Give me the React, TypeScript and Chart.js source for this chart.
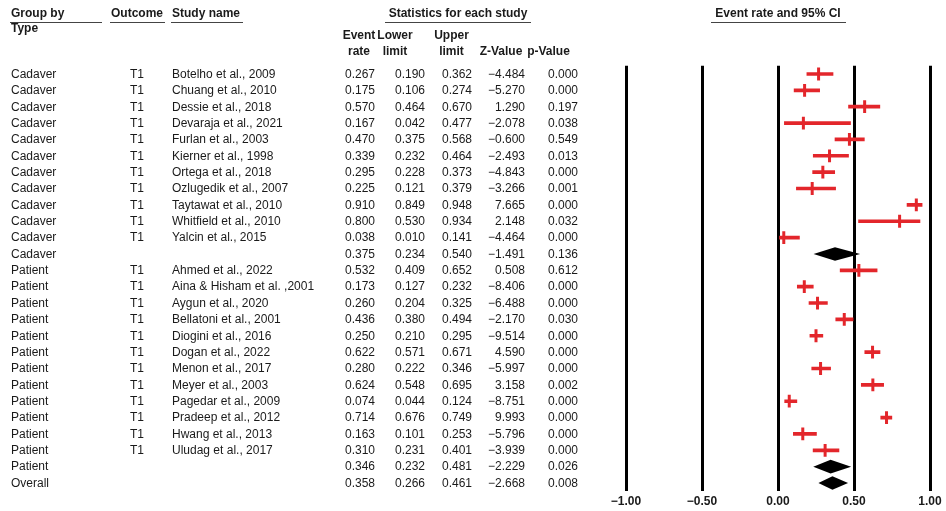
import React, { useEffect, useRef } from 'react';
import { Chart, registerables } from 'chart.js';

Chart.register(...registerables);

const groups = [
  'Cadaver', 'Cadaver', 'Cadaver', 'Cadaver', 'Cadaver', 'Cadaver', 'Cadaver', 'Cadaver', 'Cadaver', 'Cadaver', 'Cadaver', 'Cadaver',
  'Patient', 'Patient', 'Patient', 'Patient', 'Patient', 'Patient', 'Patient', 'Patient', 'Patient', 'Patient', 'Patient', 'Patient', 'Patient',
  'Overall',
];
const outcomes = [
  'T1', 'T1', 'T1', 'T1', 'T1', 'T1', 'T1', 'T1', 'T1', 'T1', 'T1', '',
  'T1', 'T1', 'T1', 'T1', 'T1', 'T1', 'T1', 'T1', 'T1', 'T1', 'T1', 'T1', '',
  '',
];
const studies = [
  'Botelho et al., 2009', 'Chuang et al., 2010', 'Dessie et al., 2018', 'Devaraja et al., 2021', 'Furlan et al., 2003',
  'Kierner et al., 1998', 'Ortega et al., 2018', 'Ozlugedik et al., 2007', 'Taytawat et al., 2010', 'Whitfield et al., 2010',
  'Yalcin et al., 2015', '',
  'Ahmed et al., 2022', 'Aina & Hisham et al. ,2001', 'Aygun et al., 2020', 'Bellatoni et al., 2001', 'Diogini et al., 2016',
  'Dogan et al., 2022', 'Menon et al., 2017', 'Meyer et al., 2003', 'Pagedar et al., 2009', 'Pradeep et al., 2012',
  'Hwang et al., 2013', 'Uludag et al., 2017', '',
  '',
];
const eventRate = [0.267, 0.175, 0.570, 0.167, 0.470, 0.339, 0.295, 0.225, 0.910, 0.800, 0.038, 0.375,
  0.532, 0.173, 0.260, 0.436, 0.250, 0.622, 0.280, 0.624, 0.074, 0.714, 0.163, 0.310, 0.346, 0.358];
const lowerLimit = [0.190, 0.106, 0.464, 0.042, 0.375, 0.232, 0.228, 0.121, 0.849, 0.530, 0.010, 0.234,
  0.409, 0.127, 0.204, 0.380, 0.210, 0.571, 0.222, 0.548, 0.044, 0.676, 0.101, 0.231, 0.232, 0.266];
const upperLimit = [0.362, 0.274, 0.670, 0.477, 0.568, 0.464, 0.373, 0.379, 0.948, 0.934, 0.141, 0.540,
  0.652, 0.232, 0.325, 0.494, 0.295, 0.671, 0.346, 0.695, 0.124, 0.749, 0.253, 0.401, 0.481, 0.461];
const zValue = [-4.484, -5.270, 1.290, -2.078, -0.600, -2.493, -4.843, -3.266, 7.665, 2.148, -4.464, -1.491,
  0.508, -8.406, -6.488, -2.170, -9.514, 4.590, -5.997, 3.158, -8.751, 9.993, -5.796, -3.939, -2.229, -2.668];
const pValue = [0.000, 0.000, 0.197, 0.038, 0.549, 0.013, 0.000, 0.001, 0.000, 0.032, 0.000, 0.136,
  0.612, 0.000, 0.000, 0.030, 0.000, 0.000, 0.000, 0.002, 0.000, 0.000, 0.000, 0.000, 0.026, 0.008];
const isSummary = [false, false, false, false, false, false, false, false, false, false, false, true,
  false, false, false, false, false, false, false, false, false, false, false, false, true, true];
const xTicks = [-1, -0.5, 0, 0.5, 1];
const xTickLabels = ['\u22121.00', '\u22120.50', '0.00', '0.50', '1.00'];

const RED = '#e3262b';
const TEXT = '#1a1a1a';
const FONT = '"Liberation Sans", Arial, sans-serif';
const TOP = 65.8;
const ROW_H = 16.36;
const AXIS_H = 19.8;

const fmt = (v: number) => (v < 0 ? '\u2212' : '') + Math.abs(v).toFixed(3);

const diamondPlugin = {
  id: 'diamonds',
  afterDatasetsDraw(chart: any) {
    const { ctx, scales } = chart;
    const x = scales.x;
    const y = scales.y;
    ctx.save();
    ctx.fillStyle = '#000';
    isSummary.forEach((s, i) => {
      if (!s) return;
      const cy = y.getPixelForValue(i);
      const h = 6.8;
      ctx.beginPath();
      ctx.moveTo(x.getPixelForValue(lowerLimit[i]), cy);
      ctx.lineTo(x.getPixelForValue(eventRate[i]), cy - h);
      ctx.lineTo(x.getPixelForValue(upperLimit[i]), cy);
      ctx.lineTo(x.getPixelForValue(eventRate[i]), cy + h);
      ctx.closePath();
      ctx.fill();
    });
    ctx.restore();
  },
};

const tablePlugin = {
  id: 'table',
  afterDraw(chart: any) {
    const { ctx, scales } = chart;
    const y = scales.y;
    ctx.save();
    ctx.fillStyle = TEXT;
    ctx.textBaseline = 'middle';

    const bold = `bold 12px ${FONT}`;
    const reg = `12px ${FONT}`;
    const put = (t: string, x: number, yy: number, align: CanvasTextAlign, font: string) => {
      ctx.font = font;
      ctx.textAlign = align;
      ctx.fillText(t, x, yy);
    };
    const uline = (x1: number, x2: number, yy: number) => {
      ctx.save();
      ctx.strokeStyle = '#444';
      ctx.lineWidth = 1;
      ctx.beginPath();
      ctx.moveTo(x1, yy);
      ctx.lineTo(x2, yy);
      ctx.stroke();
      ctx.restore();
    };

    // headers
    put('Group by', 11, 14, 'left', bold);
    uline(10, 102, 22.5);
    put('Type', 11, 29, 'left', bold);
    put('Outcome', 111, 14, 'left', bold);
    uline(110, 165, 22.5);
    put('Study name', 172, 14, 'left', bold);
    uline(171, 243, 22.5);
    put('Statistics for each study', 458, 14, 'center', bold);
    uline(385, 531, 22.5);
    put('Event', 359, 35.5, 'center', bold);
    put('rate', 359, 51.5, 'center', bold);
    put('Lower', 395, 35.5, 'center', bold);
    put('limit', 395, 51.5, 'center', bold);
    put('Upper', 451.5, 35.5, 'center', bold);
    put('limit', 451.5, 51.5, 'center', bold);
    put('Z-Value', 501, 51.5, 'center', bold);
    put('p-Value', 548.5, 51.5, 'center', bold);
    put('Event rate and 95% CI', 778, 14, 'center', bold);
    uline(711, 846, 22.5);

    // rows
    groups.forEach((g, i) => {
      const cy = y.getPixelForValue(i) + 0.5;
      put(g, 11, cy, 'left', reg);
      if (outcomes[i]) put(outcomes[i], 130, cy, 'left', reg);
      if (studies[i]) put(studies[i], 172, cy, 'left', reg);
      put(eventRate[i].toFixed(3), 375, cy, 'right', reg);
      put(lowerLimit[i].toFixed(3), 425, cy, 'right', reg);
      put(upperLimit[i].toFixed(3), 472, cy, 'right', reg);
      put(fmt(zValue[i]), 525, cy, 'right', reg);
      put(pValue[i].toFixed(3), 578, cy, 'right', reg);
    });
    ctx.restore();
  },
};

export default function App() {
  const ref = useRef<HTMLCanvasElement | null>(null);

  useEffect(() => {
    if (!ref.current) return;
    const rows = groups.map((_, i) => String(i));
    const chart = new Chart(ref.current, {
      type: 'bar',
      data: {
        labels: rows,
        datasets: [
          {
            type: 'bar',
            data: rows.map((_, i) => (isSummary[i] ? null : [lowerLimit[i], upperLimit[i]])) as any,
            backgroundColor: RED,
            borderWidth: 0,
            barThickness: 3,
          } as any,
          {
            type: 'line',
            indexAxis: 'y',
            data: rows.map((_, i) => (isSummary[i] ? null : eventRate[i])) as any,
            showLine: false,
            pointStyle: 'line',
            pointRotation: 90,
            pointRadius: 6.4,
            pointHoverRadius: 6.4,
            pointBorderWidth: 3,
            pointBorderColor: RED,
            borderColor: RED,
          } as any,
        ],
      },
      options: {
        indexAxis: 'y',
        animation: false,
        responsive: true,
        maintainAspectRatio: false,
        layout: { padding: { left: 626, right: 16, top: TOP, bottom: 0 } },
        plugins: { legend: { display: false }, tooltip: { enabled: false } },
        events: [],
        scales: {
          y: {
            type: 'category',
            display: false,
            offset: true,
            grid: { display: false },
          },
          x: {
            type: 'linear',
            min: -1,
            max: 1,
            afterBuildTicks: (s: any) => {
              s.ticks = xTicks.map((v) => ({ value: v }));
            },
            afterFit: (s: any) => {
              s.height = AXIS_H;
            },
            grid: { color: '#000', lineWidth: 3, drawTicks: false },
            border: { display: false },
            ticks: {
              callback: (_v: any, i: number) => xTickLabels[i],
              font: { family: FONT, weight: 'bold', size: 12 },
              color: TEXT,
              padding: 3,
              maxRotation: 0,
              autoSkip: false,
            },
          },
        },
      } as any,
      plugins: [diamondPlugin, tablePlugin],
    });
    return () => chart.destroy();
  }, []);

  return (
    <div style={{ position: 'absolute', left: 0, top: 0, width: 946, height: 511, background: '#fff' }}>
      <canvas ref={ref} />
    </div>
  );
}
